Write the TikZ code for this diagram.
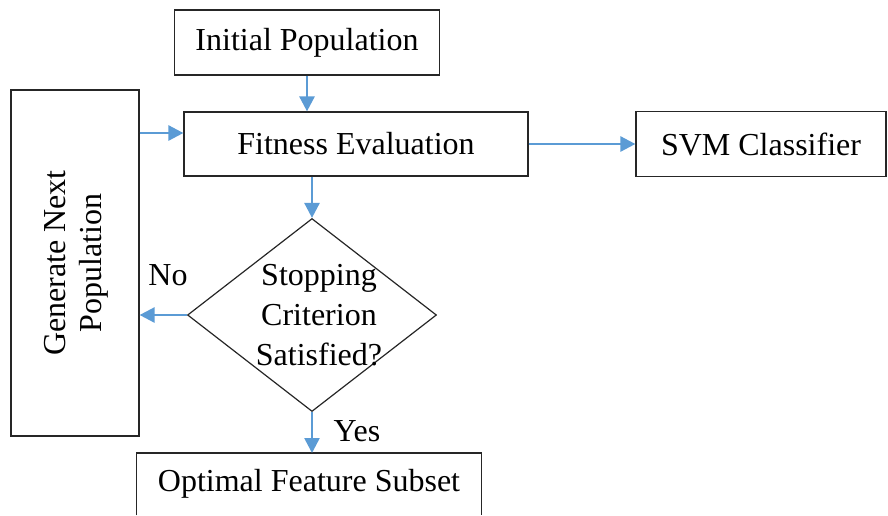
\documentclass[tikz,border=0pt]{standalone}
\usepackage{fontspec}
\setmainfont{Liberation Serif}
\usetikzlibrary{arrows.meta,shapes.geometric,calc}
\definecolor{flowblue}{HTML}{5B9BD5}
\tikzset{
  box/.style={draw=black!85,line width=1.2pt,rectangle,inner sep=0pt,align=center},
  decision/.style={draw=black!85,line width=1.2pt,diamond,inner sep=0pt},
  flow/.style={draw=flowblue,line width=2.6pt,-{Triangle[length=15pt,width=15pt]}},
  txt/.style={inner sep=0pt,align=center},
}
\begin{document}
\begin{tikzpicture}[x=1pt,y=-1pt,font=\fontsize{32}{40}\selectfont]
\useasboundingbox (0,0) rectangle (888,515);

\node[box,minimum width=265pt,minimum height=65pt] (init) at (307,42.5) {Initial Population};
\node[box,minimum width=344pt,minimum height=64pt] (fit) at (356,144) {Fitness Evaluation};
\node[box,minimum width=250pt,minimum height=65pt] (svm) at (761,144) {SVM Classifier};
\node[box,minimum width=128pt,minimum height=346pt] (gen) at (75,263)
  {\rotatebox{90}{\begin{tabular}{c}Generate Next\\[-4pt]Population\end{tabular}}};
\node[decision,minimum width=249pt,minimum height=193pt] (dec) at (312,315) {};
\node[txt] (dectext) at (319,315) {Stopping\\Criterion\\Satisfied?};

% output box runs past the lower edge, so only three sides are drawn
\node[txt,anchor=north,minimum width=344pt,minimum height=62pt] (opt) at (309,453) {Optimal Feature Subset};
\draw[black!85,line width=1.2pt] (opt.south west) -- (opt.north west) -- (opt.north east) -- (opt.south east);

\node[txt] (no) at (168,275) {No};
\node[txt] (yes) at (357,431) {Yes};

\coordinate (fitin) at ([yshift=11pt]fit.west);
\draw[flow] (init.south) -- (init.south |- fit.north);
\draw[flow] (fit.south -| dec.north) -- (dec.north);
\draw[flow] (fit.east) -- (svm.west);
\draw[flow] (fitin -| gen.east) -- (fitin);
\draw[flow] (dec.west) -- (dec.west -| gen.east);
\draw[flow] (dec.south) -- (dec.south |- opt.north);
\end{tikzpicture}
\end{document}
